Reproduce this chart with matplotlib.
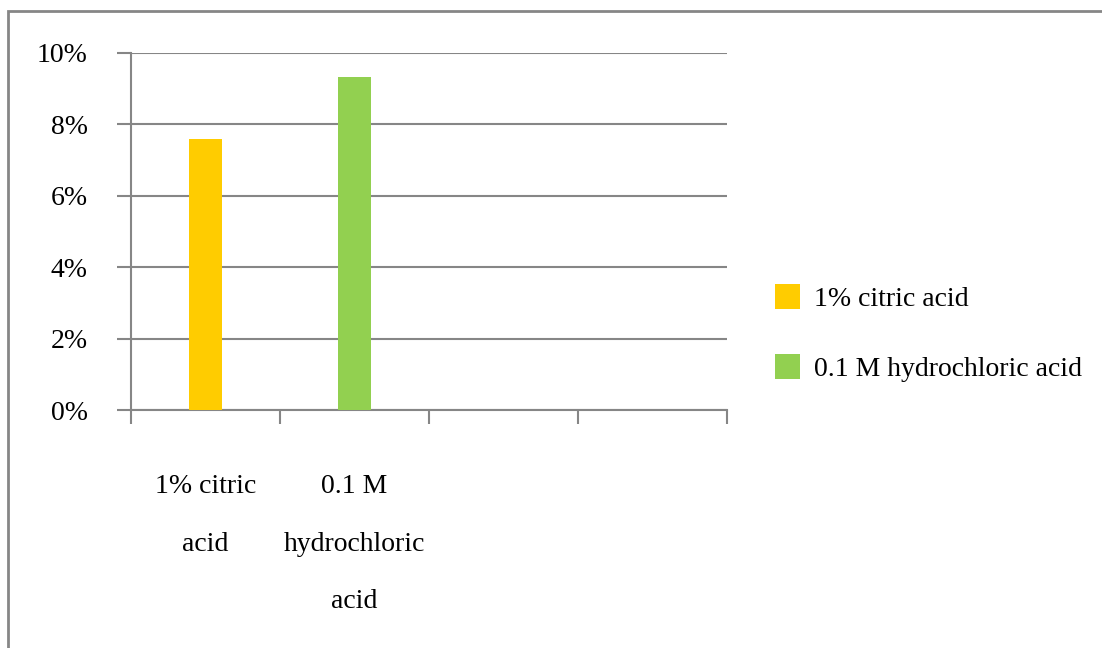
import matplotlib.pyplot as plt
from matplotlib.patches import Rectangle

categories = ['1% citric\nacid', '0.1 M\nhydrochloric\nacid', '', '']
series_names = ['1% citric acid', '0.1 M hydrochloric acid']
values = [7.6, 9.33]
colors = ['#FFCC00', '#92D050']
yticks = [0, 2, 4, 6, 8, 10]

plt.rcParams['font.family'] = ['Liberation Serif', 'DejaVu Serif']
grey = '#868686'

fig = plt.figure(figsize=(11.02, 6.48), dpi=100)
ax = fig.add_axes([131/1102, 1-410/648, 596/1102, 357/648])

handles = []
for i, (name, v, c) in enumerate(zip(series_names, values, colors)):
    h = ax.bar(i, v, width=0.22, color=c, label=name, zorder=3)
    handles.append(h)

ax.set_xlim(-0.5, len(categories) - 0.5)
ax.set_ylim(0, 10)
ax.set_yticks(yticks)
ax.set_yticklabels([f'{t}%' for t in yticks], fontsize=20)
ax.yaxis.grid(True, color=grey, linewidth=1.5, zorder=0)
ax.tick_params(axis='y', length=10, width=1.5, color=grey, pad=21)

# category boundary ticks, labels on minor ticks
ax.set_xticks([i - 0.5 for i in range(len(categories) + 1)])
ax.set_xticklabels([])
ax.tick_params(axis='x', which='major', length=10, width=1.5, color=grey)
ax.set_xticks(range(len(categories)), minor=True)
ax.set_xticklabels(categories, minor=True, fontsize=20, linespacing=2.72, va='top')
ax.tick_params(axis='x', which='minor', length=0, pad=46)

for s in ['top', 'right']:
    ax.spines[s].set_visible(False)
for s in ['left', 'bottom']:
    ax.spines[s].set_color(grey)
    ax.spines[s].set_linewidth(1.5)

fig.legend(handles=handles, labels=series_names, loc='center left',
           bbox_to_anchor=(750/1102, 1-333/648), frameon=False, fontsize=20,
           handlelength=0.9, handleheight=1.0, labelspacing=1.5, handletextpad=0.5)

fig.patches.append(Rectangle((8/1102, -0.1), 1.2, 1.1 - 11/648, transform=fig.transFigure,
                             fill=False, edgecolor=grey, linewidth=2))

fig.savefig('out.png', dpi=100)
